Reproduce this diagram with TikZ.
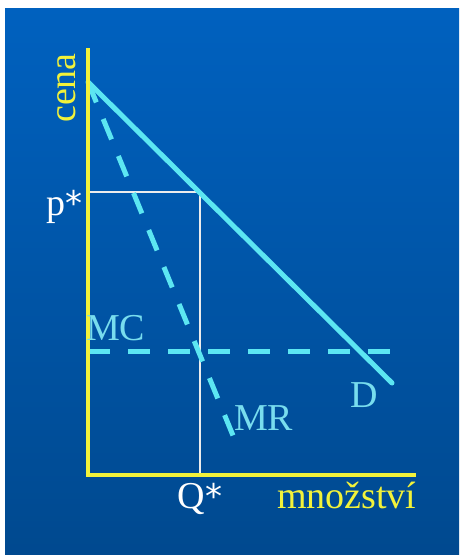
\documentclass[tikz,border=0pt]{standalone}
\usepackage{fontspec}
\setmainfont{Liberation Serif}
\newfontfamily\astfont{DejaVu Sans}
\newcommand\bigast{{\astfont\fontsize{34}{36}\selectfont *}}
\usepackage{tikz}
\usetikzlibrary{positioning}
\definecolor{bgtop}{HTML}{0061BF}
\definecolor{bgbot}{HTML}{00498F}
\definecolor{axyel}{HTML}{F2F23A}
\definecolor{crv}{HTML}{5CE6F2}
\definecolor{crvtxt}{HTML}{78DDEE}
\tikzset{
  axisln/.style = {draw=axyel, line width=3.5pt},
  dem/.style    = {draw=crv, line width=5pt, line cap=round},
  marg/.style   = {draw=crv, line width=5pt, dash pattern=on 22pt off 18pt},
  guide/.style  = {draw=white!85!gray, line width=1.2pt},
  lbl/.style    = {inner sep=0pt, font=\fontsize{38}{40}\selectfont},
}
\begin{document}
\begin{tikzpicture}[x=1pt, y=-1pt]
  \useasboundingbox (0,0) rectangle (459,555);
  \fill[white] (0,0) rectangle (459,555);
  \shade[top color=bgtop, bottom color=bgbot] (5,8) rectangle (459,555);
  % points
  \coordinate (top) at (88,48);
  \coordinate (O)   at (88,475);
  \coordinate (xe)  at (416,475);
  \coordinate (pk)  at (88,82);
  \coordinate (dend) at (392,383);
  \coordinate (mrend) at (234,438);
  \coordinate (mc0) at (88,351);
  \coordinate (mc1) at (404,351);
  \coordinate (pstar) at (88,192);
  \coordinate (eq)  at (200,192);
  \coordinate (qstar) at (200,475);
  % guides
  \draw[guide] (pstar) -- (eq) -- (qstar);
  % curves
  \draw[marg] (mc0) -- (mc1);
  \draw[marg] (pk) -- (mrend);
  \draw[dem] (pk) -- (dend);
  % axes
  \draw[axisln] (top) -- (O) -- (xe);
  % labels
  \node[lbl, axyel, rotate=90, anchor=base west] (cena) at (75,123) {cena};
  \node[lbl, white, anchor=base east] (plab) at (83,215) {p\bigast};
  \node[lbl, crvtxt, anchor=base west] (mclab) at (86,340) {MC};
  \node[lbl, crvtxt, anchor=base] (dlab) at (364,407) {D};
  \node[lbl, crvtxt, anchor=base west] (mrlab) at (234,430) {MR};
  \node[lbl, white, anchor=base] (qlab) at (200,508) {Q\bigast};
  \node[lbl, axyel, anchor=base west] (mnoz) at (277,508) {množství};
\end{tikzpicture}
\end{document}
